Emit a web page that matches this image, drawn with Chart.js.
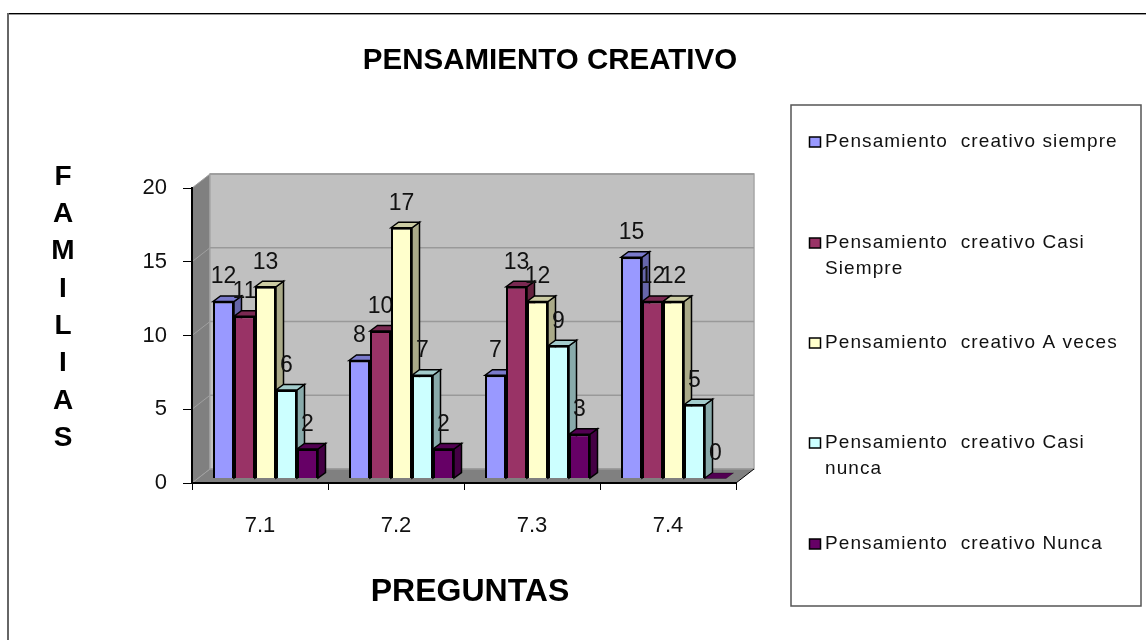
<!DOCTYPE html>
<html><head><meta charset="utf-8">
<style>html,body{margin:0;padding:0;background:#fff}#w{width:1146px;height:640px;position:relative}</style>
<script src="https://cdn.jsdelivr.net/npm/chart.js@4/dist/chart.umd.min.js"></script>
</head><body><div id="w"><canvas id="c" width="1146" height="640"></canvas></div>
<script>
const categories = ['7.1','7.2','7.3','7.4'];
const seriesSiempre = [12,8,7,15];
const seriesCasiSiempre = [11,10,13,12];
const seriesAVeces = [13,17,12,12];
const seriesCasiNunca = [6,7,9,5];
const seriesNunca = [2,2,3,0];
const seriesNames = ['Pensamiento creativo siempre','Pensamiento creativo Casi Siempre','Pensamiento creativo A veces','Pensamiento creativo Casi nunca','Pensamiento creativo Nunca'];
const legendLines = [['Pensamiento  creativo siempre'],['Pensamiento  creativo Casi','Siempre'],['Pensamiento  creativo A veces'],['Pensamiento  creativo Casi','nunca'],['Pensamiento  creativo Nunca']];
const legendY = [142,243,343,443,544];
const fronts = ['#9999ff','#993366','#ffffcc','#ccffff','#660066'];
const tops = ['#7a7acc','#7a2952','#cccca3','#a3cccc','#520052'];
const sides = ['#6666aa','#66223f','#aaaa88','#88aaaa','#440044'];
const allSeries = [seriesSiempre,seriesCasiSiempre,seriesAVeces,seriesCasiNunca,seriesNunca];
const DX=7.5, DY=5.5, SHIFTX=5.5, SHIFTY=-4.5, WX=18, WY=14;
const FONT='"Liberation Sans", Arial, sans-serif';

function poly(ctx,pts,fill,stroke,lw){
  ctx.beginPath();pts.forEach((p,i)=>i?ctx.lineTo(p[0],p[1]):ctx.moveTo(p[0],p[1]));ctx.closePath();
  ctx.fillStyle=fill;ctx.fill();
  if(stroke){ctx.strokeStyle=stroke;ctx.lineWidth=lw||1;ctx.lineJoin='miter';ctx.stroke();}
}
const scene={
  id:'scene',
  beforeDraw(chart){
    const {ctx,chartArea:a,scales:{y}}=chart;
    ctx.save();
    // outer frame: only the top and left edges show
    ctx.fillStyle='#000';ctx.fillRect(7,13,1139,1);
    ctx.fillStyle='#999';ctx.fillRect(8,14,1138,1);
    ctx.fillStyle='#666';ctx.fillRect(7,13,2,627);
    // title
    ctx.fillStyle='#000';ctx.textAlign='center';ctx.textBaseline='middle';
    ctx.font='bold 29.5px '+FONT;ctx.fillText('PENSAMIENTO CREATIVO',550,60.5);
    ctx.font='bold 32px '+FONT;ctx.fillText('PREGUNTAS',470,592.5);
    // vertical axis title
    ctx.font='bold 28px '+FONT;
    'FAMILIAS'.split('').forEach((ch,i)=>ctx.fillText(ch,63,177+i*37.3));
    // walls
    poly(ctx,[[a.left,a.top],[a.left+WX,a.top-WY],[a.left+WX,a.bottom-WY],[a.left,a.bottom]],'#808080');
    poly(ctx,[[a.left+WX,a.top-WY],[a.right+WX,a.top-WY],[a.right+WX,a.bottom-WY],[a.left+WX,a.bottom-WY]],'#c0c0c0','#a6a6a6',1.5);
    poly(ctx,[[a.left,a.bottom],[a.left+WX,a.bottom-WY],[a.right+WX,a.bottom-WY],[a.right,a.bottom]],'#808080');
    // gridlines on the walls
    y.ticks.forEach(t=>{
      const py=y.getPixelForValue(t.value);
      ctx.strokeStyle='#999';ctx.lineWidth=1.5;
      ctx.beginPath();ctx.moveTo(a.left+WX,py-WY);ctx.lineTo(a.right+WX,py-WY);ctx.stroke();
      ctx.strokeStyle='#a0a0a0';ctx.lineWidth=1;
      ctx.beginPath();ctx.moveTo(a.left,py);ctx.lineTo(a.left+WX,py-WY);ctx.stroke();
    });
    // floor front edge slope
    ctx.strokeStyle='#000';ctx.lineWidth=1;
    ctx.beginPath();ctx.moveTo(a.right,a.bottom);ctx.lineTo(a.right+WX,a.bottom-WY);ctx.stroke();
    // legend box
    ctx.fillStyle='#fff';ctx.strokeStyle='#555';ctx.lineWidth=1.5;
    ctx.fillRect(791,105,350,501);ctx.strokeRect(791,105,350,501);
    ctx.textAlign='left';ctx.textBaseline='middle';ctx.font='19px '+FONT;
    ctx.letterSpacing='1.1px';
    legendLines.forEach((ls,i)=>{
      ctx.fillStyle=fronts[i];ctx.strokeStyle='#000';ctx.lineWidth=1.5;
      ctx.fillRect(809.5,legendY[i]-5,11,10);ctx.strokeRect(809.5,legendY[i]-5,11,10);
      ctx.fillStyle='#111';
      ls.forEach((t,j)=>ctx.fillText(t,825,legendY[i]+j*26));
    });
    ctx.letterSpacing='0px';
    ctx.restore();
  },
  beforeDatasetDraw(){return false;},
  afterDatasetsDraw(chart){
    const {ctx}=chart;
    ctx.save();ctx.translate(SHIFTX,SHIFTY);
    allSeries.forEach((vals,i)=>{
      chart.getDatasetMeta(i).data.forEach((el,k)=>{
        const p=el.getProps(['x','y','base','width'],true);
        const l=p.x-p.width/2,r=p.x+p.width/2,t=p.y,b=p.base;
        if(vals[k]>0){
          poly(ctx,[[r,t],[r+DX,t-DY],[r+DX,b-DY],[r,b]],sides[i],'#000',1.5);
        }
        poly(ctx,[[l,t],[l+DX,t-DY],[r+DX,t-DY],[r,t]],tops[i],'#000',vals[k]>0?1.5:0.3);
        if(vals[k]>0) el.draw(ctx);
        ctx.fillStyle='#111';ctx.font='23px '+FONT;ctx.textAlign='center';ctx.textBaseline='middle';
        ctx.fillText(String(vals[k]),p.x,t-24.5);
      });
    });
    ctx.restore();
  }
};
new Chart(document.getElementById('c'),{
  type:'bar',
  data:{labels:categories,datasets:allSeries.map((d,i)=>({label:seriesNames[i],data:d,backgroundColor:fronts[i],borderColor:'#000',borderWidth:2}))},
  options:{
    responsive:false,animation:false,
    layout:{padding:{top:188,right:410,left:0,bottom:0}},
    plugins:{legend:{display:false},title:{display:false},tooltip:{enabled:false}},
    datasets:{bar:{barPercentage:1,categoryPercentage:0.772}},
    scales:{
      x:{afterFit(s){s.height=157;},
        grid:{drawOnChartArea:false,color:'#000',tickLength:7,tickWidth:1},
        border:{color:'#000',width:2},
        ticks:{color:'#111',font:{family:FONT,size:22},padding:23,maxRotation:0}},
      y:{min:0,max:20,afterFit(s){s.width=192;},
        grid:{drawOnChartArea:false,color:'#000',tickLength:9,tickWidth:1},
        border:{color:'#000',width:2},
        ticks:{color:'#111',stepSize:5,font:{family:FONT,size:22},padding:16}}
    }
  },
  plugins:[scene]
});
</script></body></html>
